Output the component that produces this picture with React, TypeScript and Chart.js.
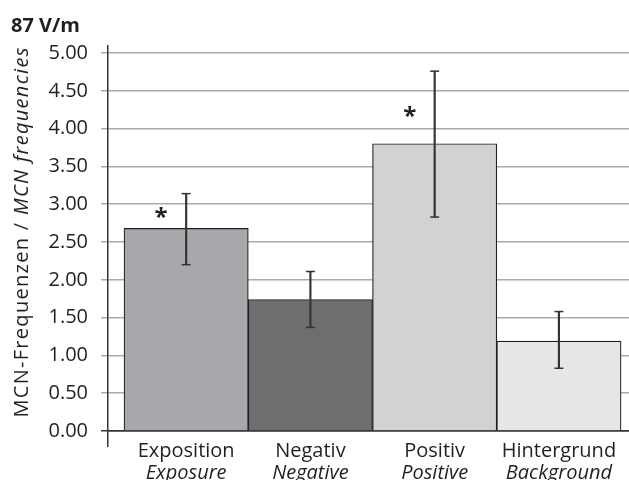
import React, { useEffect, useRef } from "react";
import { Chart, registerables } from "chart.js";

Chart.register(...registerables);

const titleText = "87 V/m";
const categoriesDe = ["Exposition", "Negativ", "Positiv", "Hintergrund"];
const categoriesEn = ["Exposure", "Negative", "Positive", "Background"];
const meanValues = [2.68, 1.74, 3.8, 1.19];
const lowValues = [2.2, 1.37, 2.83, 0.83];
const highValues = [3.14, 2.11, 4.76, 1.58];
const starValues: (number | null)[] = [2.87, null, 4.21, null];
const barColors = ["#a7a8ab", "#6d6e70", "#d1d2d4", "#e6e7e8"];
const yTicks = [0, 0.5, 1, 1.5, 2, 2.5, 3, 3.5, 4, 4.5, 5];
const yTitleNormal = "MCN-Frequenzen / ";
const yTitleItalic = "MCN frequencies";

const FONT = "'Open Sans', Lato, sans-serif";
const INK = "#231f20";

const textPlugin = {
  id: "mixedText",
  afterDraw(chart: any) {
    const ctx = chart.ctx as CanvasRenderingContext2D;
    const xs = chart.scales.x;
    const ys = chart.scales.y;
    const area = chart.chartArea;
    ctx.save();
    ctx.fillStyle = INK;
    // x labels
    ctx.textAlign = "center";
    ctx.textBaseline = "alphabetic";
    categoriesDe.forEach((c, i) => {
      const px = xs.getPixelForValue(i);
      ctx.font = `20px ${FONT}`;
      ctx.fillText(c, px, area.bottom + 26);
      ctx.font = `italic 20px ${FONT}`;
      ctx.fillText(categoriesEn[i], px, area.bottom + 48);
    });
    // stars
    ctx.font = `bold 24px ${FONT}`;
    ctx.textBaseline = "middle";
    starValues.forEach((v, i) => {
      if (v === null) return;
      ctx.fillText("*", xs.getPixelForValue(i) - 25, ys.getPixelForValue(v) + 4);
    });
    // y title
    ctx.translate(28, 232);
    ctx.rotate(-Math.PI / 2);
    ctx.textAlign = "left";
    ctx.textBaseline = "alphabetic";
    try {
      (ctx as any).letterSpacing = "1.3px";
    } catch (e) {}
    ctx.font = `20px ${FONT}`;
    const w1 = ctx.measureText(yTitleNormal).width;
    ctx.font = `italic 20px ${FONT}`;
    const w2 = ctx.measureText(yTitleItalic).width;
    const start = -(w1 + w2) / 2;
    ctx.font = `20px ${FONT}`;
    ctx.fillText(yTitleNormal, start, 0);
    ctx.font = `italic 20px ${FONT}`;
    ctx.fillText(yTitleItalic, start + w1, 0);
    ctx.restore();
  },
};

export default function App() {
  const ref = useRef<HTMLCanvasElement>(null);
  useEffect(() => {
    if (!ref.current) return;
    const xMin = -0.629;
    const xMax = 3.564;
    const chart = new Chart(ref.current, {
      type: "bar",
      data: {
        datasets: [
          {
            type: "line",
            data: highValues.map((v, i) => ({ x: i, y: v })).concat(lowValues.map((v, i) => ({ x: i, y: v }))),
            showLine: false,
            pointStyle: "line",
            pointRadius: 4.5,
            pointBorderWidth: 1.5,
            pointBorderColor: "#333",
            borderColor: "#333",
            order: 1,
          } as any,
          {
            type: "bar",
            data: lowValues.map((v, i) => ({ x: i, y: [v, highValues[i]] })),
            backgroundColor: "#333",
            borderWidth: 0,
            barThickness: 1.5,
            grouped: false,
            order: 2,
          } as any,
          {
            type: "bar",
            data: meanValues.map((v, i) => ({ x: i, y: v })),
            backgroundColor: barColors,
            borderColor: INK,
            borderWidth: 1.2,
            barPercentage: 1,
            categoryPercentage: 1,
            grouped: false,
            order: 3,
          } as any,
        ],
      },
      options: {
        animation: false,
        responsive: true,
        maintainAspectRatio: false,
        layout: { autoPadding: false, padding: { left: 11, right: 0, top: 0, bottom: 0 } },
        plugins: {
          legend: { display: false },
          tooltip: { enabled: false },
          title: {
            display: true,
            text: titleText,
            align: "start",
            color: INK,
            font: { family: FONT, size: 20, weight: "bold", lineHeight: 1.2 },
            padding: { top: 14, bottom: 8 },
          },
        },
        scales: {
          x: {
            type: "linear",
            offset: false,
            min: xMin,
            max: xMax,
            afterBuildTicks: (s: any) => {
              s.ticks = [{ value: xMin }];
            },
            afterFit: (s: any) => {
              s.height = 49;
            },
            ticks: { display: false },
            grid: {
              display: true,
              offset: false,
              drawOnChartArea: false,
              drawTicks: true,
              tickLength: 16,
              color: "#333",
              tickColor: "#333",
              lineWidth: 1.5,
            },
            border: { display: true, color: "#333", width: 1.5 },
          },
          y: {
            type: "linear",
            min: 0,
            max: 5.093,
            afterBuildTicks: (s: any) => {
              s.ticks = yTicks.map((v) => ({ value: v }));
            },
            afterFit: (s: any) => {
              s.width = 97;
            },
            ticks: {
              color: INK,
              padding: 13,
              font: { family: FONT, size: 20 },
              callback: (v: any) => Number(v).toFixed(2),
            },
            grid: {
              color: (c: any) => (c.tick && c.tick.value === 0 ? "#333" : "#aaaaaa"),
              tickColor: (c: any) => (c.tick && c.tick.value === 0 ? "#333" : "#aaaaaa"),
              lineWidth: 1.5,
              tickLength: 7,
            },
            border: { display: true, color: "#333", width: 1.5 },
          },
        },
      },
      plugins: [textPlugin],
    });
    return () => chart.destroy();
  }, []);
  return (
    <div style={{ position: "absolute", left: 0, top: 0, width: 629, height: 480 }}>
      <canvas ref={ref} />
    </div>
  );
}
